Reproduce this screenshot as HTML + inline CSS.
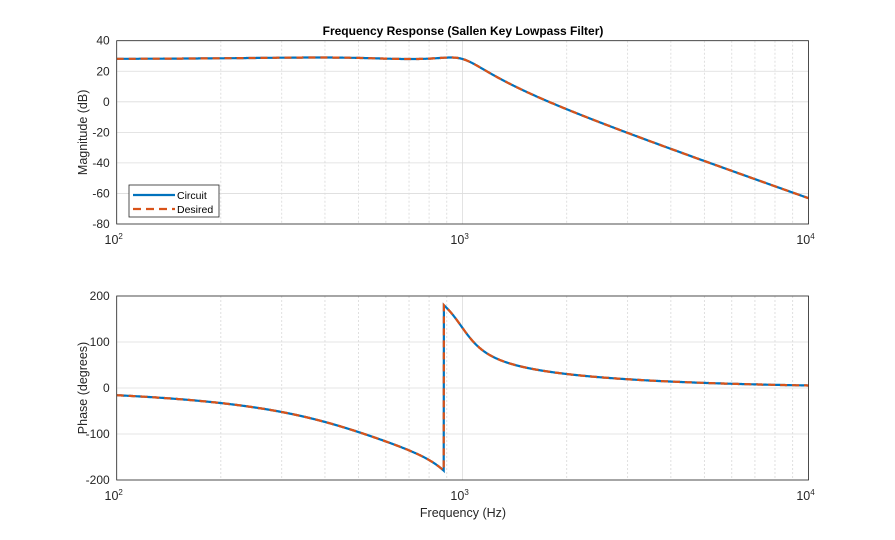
<!DOCTYPE html>
<html><head><meta charset="utf-8"><style>
html,body{margin:0;padding:0;background:#fff;}
svg{display:block;font-family:"Liberation Sans",sans-serif;}
</style></head><body>
<svg id="s" width="895" height="540" viewBox="0 0 895 540" xmlns="http://www.w3.org/2000/svg"></svg>
<script>
const S=document.getElementById('s');
let h='';
const X0=116.7,X1=808.5,DEC=(X1-X0)/2;
const fx=f=>X0+(Math.log10(f)-2)*DEC;
const eps=Math.sqrt(Math.pow(10,0.1)-1),a=Math.asinh(1/eps)/4,wp=2*Math.PI*1000;
const poles=[];for(let k=1;k<=4;k++){const th=(2*k-1)*Math.PI/8;poles.push([-Math.sinh(a)*Math.sin(th)*wp,Math.cosh(a)*Math.cos(th)*wp]);}
function H(f){const w=2*Math.PI*f;let re=1,im=0;for(const p of poles){
 const nr=-p[0],ni=-p[1],dr=-p[0],di=w-p[1];const d=dr*dr+di*di;const r=(nr*dr+ni*di)/d,i=(ni*dr-nr*di)/d;const t=re*r-im*i;im=re*i+im*r;re=t;}
 return [re,im];}
let pk=-1e9;for(let i=0;i<=2000;i++){const f=Math.pow(10,2+i/1000);const [r,im]=H(f);pk=Math.max(pk,20*Math.log10(Math.hypot(r,im)));}
const K=29-pk;
function axes(top,bot,ymin,ymax,ystep,ylab){
 const fy=v=>bot-(v-ymin)/(ymax-ymin)*(bot-top);
 h+=`<rect x="${X0}" y="${top}" width="${X1-X0}" height="${bot-top}" fill="#fff"/>`;
 for(let d=2;d<4;d++)for(let m=2;m<10;m++){const x=fx(m*Math.pow(10,d));h+=`<line x1="${x}" y1="${top}" x2="${x}" y2="${bot}" stroke="#d8d8d8" stroke-width="0.8" stroke-dasharray="2,2"/>`;}
 for(let d=2;d<=4;d++){const x=fx(Math.pow(10,d));h+=`<line x1="${x}" y1="${top}" x2="${x}" y2="${bot}" stroke="#dcdcdc" stroke-width="0.8"/>`;
  h+=`<text x="${x-3}" y="${bot+20}" font-size="12.5" text-anchor="middle" fill="#262626">10<tspan font-size="8" dy="-5">${d}</tspan></text>`;}
 for(let v=ymin;v<=ymax;v+=ystep){const y=fy(v);h+=`<line x1="${X0}" y1="${y}" x2="${X1}" y2="${y}" stroke="#dcdcdc" stroke-width="0.8"/>`;
  h+=`<text x="${X0-7}" y="${y+4}" font-size="12" text-anchor="end" fill="#262626">${v}</text>`;}
 h+=`<text transform="translate(87,${(top+bot)/2}) rotate(-90)" font-size="12.5" text-anchor="middle" fill="#262626">${ylab}</text>`;
 return fy;}
function curve(fy,fn,top,bot){let segs=[],cur=[],prev=null;
 for(let i=0;i<=3000;i++){const f=Math.pow(10,2+i/1500);const v=fn(f);if(prev!==null&&Math.abs(v-prev)>180){cur.push([fx(f),fy(prev>0?-180:180)]);segs.push(cur);cur=[];cur.push([fx(f),fy(prev>0?-180:180)]);}
  cur.push([fx(f),fy(v)]);prev=v;}
 segs.push(cur);
 const d=segs.map((s,j)=>(j?'L':'M')+s.map(p=>p[0].toFixed(1)+','+p[1].toFixed(1)).join('L')).join('');
 h+=`<clipPath id="c${top}"><rect x="${X0}" y="${top}" width="${X1-X0}" height="${bot-top}"/></clipPath>`;
 h+=`<g clip-path="url(#c${top})"><path d="${d}" fill="none" stroke="#0072BD" stroke-width="2.2"/><path d="${d}" fill="none" stroke="#D95319" stroke-width="2.2" stroke-dasharray="7,5"/></g>`;
 h+=`<rect x="${X0}" y="${top}" width="${X1-X0}" height="${bot-top}" fill="none" stroke="#262626" stroke-width="0.8"/>`;}
const fy1=axes(40.7,224,-80,40,20,'Magnitude (dB)');
curve(fy1,f=>{const [r,i]=H(f);return 20*Math.log10(Math.hypot(r,i))+K;},40.7,224);
const fy2=axes(296,480,-200,200,100,'Phase (degrees)');
curve(fy2,f=>{const [r,i]=H(f);return Math.atan2(i,r)*180/Math.PI;},296,480);
h+=`<text x="463" y="35" font-size="12" font-weight="bold" text-anchor="middle" fill="#000">Frequency Response (Sallen Key Lowpass Filter)</text>`;
h+=`<text x="463" y="517" font-size="12.5" text-anchor="middle" fill="#262626">Frequency (Hz)</text>`;
h+=`<rect x="129" y="185" width="90" height="32" fill="#fff" stroke="#262626" stroke-width="0.8"/>`;
h+=`<line x1="133" y1="195" x2="175" y2="195" stroke="#0072BD" stroke-width="2.2"/><text x="177" y="199" font-size="10.5" fill="#000">Circuit</text>`;
h+=`<line x1="133" y1="209" x2="175" y2="209" stroke="#D95319" stroke-width="2.2" stroke-dasharray="8,5"/><text x="177" y="213" font-size="10.5" fill="#000">Desired</text>`;
S.innerHTML=h;
</script>
</body></html>
